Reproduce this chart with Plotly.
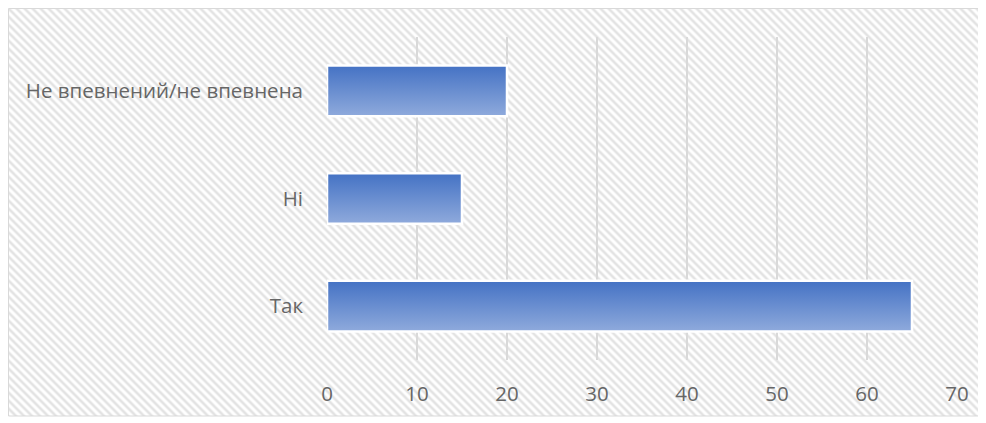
import base64
import plotly.graph_objects as go

categories = ["Так", "Ні", "Не впевнений/не впевнена"]
values = [65, 15, 20]
x_ticks = [0, 10, 20, 30, 40, 50, 60, 70]

# page body has an 8px margin, so the figure is offset by 8px
W, H = 978, 415
L, R, T, B = 319, 29, 29, 63
pw, ph = W - L - R, H - T - B

fig = go.Figure()

half = 0.235
for i, (c, v) in enumerate(zip(categories, values)):
    fig.add_trace(go.Scatter(
        x=[0, v, v, 0, 0],
        y=[i - half, i - half, i + half, i + half, i - half],
        mode="lines",
        fill="toself",
        fillgradient=dict(type="vertical",
                          colorscale=[[0, "#8faadc"], [1, "#4472c4"]]),
        line=dict(color="white", width=2.5),
        name=c,
        hoverinfo="text",
        text=f"{c}: {v}",
        showlegend=False,
    ))

# hatched background as SVG
bx0, by0, bx1, by1 = 0.5, 0.5, 971, 408
bw, bh = bx1 - bx0, by1 - by0
svg = f'''<svg xmlns="http://www.w3.org/2000/svg" width="{bw}" height="{bh}">
<defs><pattern id="p" width="8" height="8" patternUnits="userSpaceOnUse">
<rect width="8" height="8" fill="white"/>
<path d="M-2,-2 L10,10 M-2,6 L2,10 M6,-2 L10,2" stroke="#e2e2e2" stroke-width="2.6"/>
</pattern></defs>
<rect width="{bw}" height="{bh}" fill="url(#p)"/>
</svg>'''
src = "data:image/svg+xml;base64," + base64.b64encode(svg.encode()).decode()

fig.add_layout_image(dict(
    source=src, xref="paper", yref="paper",
    x=(bx0 - L) / pw, y=(H - B - by0) / ph,
    sizex=bw / pw, sizey=bh / ph,
    xanchor="left", yanchor="top", sizing="stretch", layer="below",
))
fig.add_shape(type="rect", xref="paper", yref="paper",
              x0=(bx0 - L) / pw, x1=(bx1 - L) / pw,
              y0=(H - B - by1) / ph, y1=(H - B - by0) / ph,
              line=dict(color="#d9d9d9", width=1), layer="below")

font = dict(family="Open Sans, sans-serif", size=20.5, color="#666666")
fig.update_layout(
    width=W, height=H,
    margin=dict(l=L, r=R, t=T, b=B),
    paper_bgcolor="white",
    plot_bgcolor="rgba(0,0,0,0)",
    font=font,
    xaxis=dict(range=[0, 70], tickvals=x_ticks, showgrid=True,
               gridcolor="#d9d9d9", gridwidth=1.5, zeroline=False,
               showline=False, ticks="", ticklabelstandoff=19,
               tickfont=font, fixedrange=True),
    yaxis=dict(range=[-0.5, 2.5], tickvals=list(range(len(categories))),
               ticktext=categories, showgrid=False, zeroline=False,
               showline=False, ticks="", ticklabelstandoff=23,
               tickfont=font, fixedrange=True),
)

fig.write_html("out.html")
